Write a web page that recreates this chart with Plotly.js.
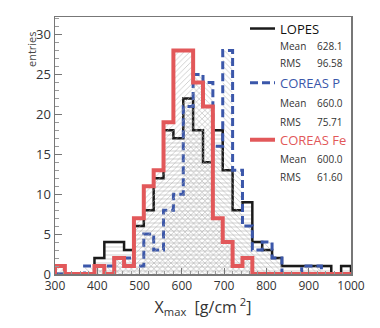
<!DOCTYPE html>
<html>
<head>
<meta charset="utf-8">
<script src="https://cdn.plot.ly/plotly-3.0.1.min.js"></script>
<style>
  html, body { margin: 0; padding: 0; background: #fff; }
  #chart { width: 380px; height: 328px; }
</style>
</head>
<body>
<div id="chart"></div>
<script>
// histogram binning: 30 bins from 300 to 1000 g/cm2
const binLo = 300;
const binHi = 1000;
const nBins = 30;

const lopes    = [0, 0, 0, 0, 2, 4, 4, 3, 6, 8, 12, 18, 17, 22, 18, 14, 18, 13, 8, 9, 4, 3, 2, 1, 1, 1, 1, 1, 0, 1];
const coreasP  = [0, 0, 0, 1, 1, 1, 2, 2, 1, 5, 3, 8, 10, 21, 25, 24, 16, 28, 13, 6, 3, 4, 2, 0, 0, 1, 1, 0, 0, 0];
const coreasFe = [1, 0, 0, 0, 1, 0, 2, 1, 7, 11, 13, 19, 28, 28, 24, 21, 7, 4, 1, 2, 0, 0, 0, 0, 0, 0, 0, 0, 0, 0];

const seriesNames = ['LOPES', 'COREAS P', 'COREAS Fe'];
const statMean = ['628.1', '660.0', '600.0'];
const statRms  = ['96.58', '75.71', '61.60'];

const colors = ['#1a1a1a', '#3b57aa', '#e2585a'];

// build step outline (ROOT style, closed down to zero at both ends)
function stepXY(counts) {
  const w = (binHi - binLo) / nBins;
  const x = [binLo];
  const y = [0];
  counts.forEach((c, i) => {
    x.push(binLo + i * w);
    y.push(c);
  });
  x.push(binHi, binHi);
  y.push(counts[counts.length - 1], 0);
  return { x, y };
}

const styles = [
  { width: 2.5, dash: 'solid', pattern: '-' },
  { width: 3, dash: '8px,4px', pattern: '\\' },
  { width: 4, dash: 'solid', pattern: '/' }
];

const data = [lopes, coreasP, coreasFe].map((counts, i) => {
  const s = stepXY(counts);
  return {
    x: s.x,
    y: s.y,
    type: 'scatter',
    mode: 'lines',
    line: { shape: 'hv', color: colors[i], width: styles[i].width, dash: styles[i].dash },
    fill: 'tozeroy',
    fillcolor: 'rgba(0,0,0,0)',
    fillpattern: { shape: styles[i].pattern, fgcolor: '#adadad', bgcolor: 'rgba(0,0,0,0)', size: 4, solidity: 0.14 },
    name: seriesNames[i],
    hoverinfo: 'skip'
  };
});

// legend + stats box (paper coordinates)
const px = (v) => (v - 55) / 296;
const py = (v) => (274 - v) / 256.5;

const annotations = [];
const shapes = [];
const rowY = [[29, 46, 63], [83, 103, 122], [140, 159, 177]];

seriesNames.forEach((name, i) => {
  const [yl, ym, yr] = rowY[i];
  shapes.push({
    type: 'line', xref: 'paper', yref: 'paper',
    x0: px(250), x1: px(275), y0: py(yl), y1: py(yl),
    line: { color: colors[i], width: styles[i].width, dash: i === 1 ? '8px,4px' : 'solid' }
  });
  annotations.push({
    xref: 'paper', yref: 'paper', x: px(278), y: py(yl), xanchor: 'left', yanchor: 'middle',
    text: name, showarrow: false, font: { size: 13, color: i === 0 ? '#111' : colors[i] }
  });
  annotations.push({
    xref: 'paper', yref: 'paper', x: px(278), y: py(ym), xanchor: 'left', yanchor: 'middle',
    text: 'Mean', showarrow: false, font: { size: 10, color: '#333' }
  });
  annotations.push({
    xref: 'paper', yref: 'paper', x: px(345), y: py(ym), xanchor: 'right', yanchor: 'middle',
    text: statMean[i], showarrow: false, font: { size: 10, color: '#333' }
  });
  annotations.push({
    xref: 'paper', yref: 'paper', x: px(278), y: py(yr), xanchor: 'left', yanchor: 'middle',
    text: 'RMS', showarrow: false, font: { size: 10, color: '#333' }
  });
  annotations.push({
    xref: 'paper', yref: 'paper', x: px(345), y: py(yr), xanchor: 'right', yanchor: 'middle',
    text: statRms[i], showarrow: false, font: { size: 10, color: '#333' }
  });
});

// y axis label sits at the top-left, ROOT style
annotations.push({
  xref: 'paper', yref: 'paper', x: px(41), y: py(30), xanchor: 'right', yanchor: 'top',
  text: 'entries', textangle: -90, showarrow: false, font: { size: 11, color: '#444' }
});

const layout = {
  width: 380,
  height: 328,
  margin: { l: 55, r: 29, t: 17, b: 54 },
  paper_bgcolor: '#fff',
  plot_bgcolor: '#fff',
  showlegend: false,
  font: { family: 'Open Sans, sans-serif', color: '#333' },
  xaxis: {
    range: [binLo, binHi],
    tickvals: [300, 400, 500, 600, 700, 800, 900, 1000],
    ticks: 'inside',
    ticklen: 6,
    tickcolor: '#777',
    minor: { dtick: 20, ticklen: 3, tickcolor: '#999', ticks: 'inside' },
    showgrid: false,
    zeroline: false,
    showline: true,
    linecolor: '#777',
    linewidth: 1.5,
    mirror: true,
    tickfont: { size: 12, color: '#333' },
    title: { text: 'X<sub>max</sub>  [g/cm<sup> 2</sup>]', font: { size: 16, color: '#333' }, standoff: 4 }
  },
  yaxis: {
    range: [0, 32.2],
    tickvals: [0, 5, 10, 15, 20, 25, 30],
    ticks: 'inside',
    ticklen: 7,
    tickcolor: '#777',
    minor: { dtick: 1, ticklen: 4, tickcolor: '#999', ticks: 'inside' },
    showgrid: false,
    zeroline: false,
    showline: true,
    linecolor: '#777',
    linewidth: 1.5,
    mirror: true,
    tickfont: { size: 13, color: '#333' }
  },
  shapes,
  annotations
};

Plotly.newPlot('chart', data, layout, { staticPlot: true, displayModeBar: false });
</script>
</body>
</html>
